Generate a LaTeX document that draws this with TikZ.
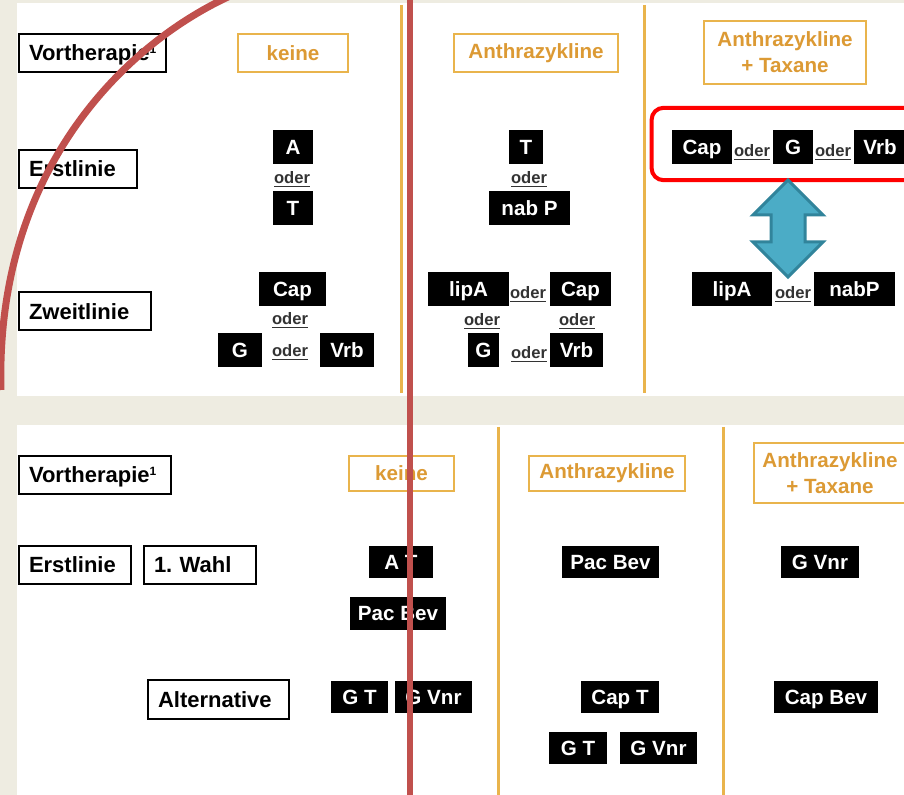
\documentclass[tikz,border=0pt]{standalone}
\usepackage{fontspec}
\setmainfont{Liberation Sans}
\usepackage{tikz}
\usetikzlibrary{fit}
\definecolor{fundo}{RGB}{238,236,225}
\definecolor{ouro}{RGB}{233,180,76}
\definecolor{ourotexto}{RGB}{220,154,52}
\definecolor{vermelho}{RGB}{192,80,77}
\definecolor{azul}{RGB}{75,172,198}
\definecolor{azulborda}{RGB}{49,132,155}
\newcommand{\hoch}{\raisebox{3.6pt}{\fontsize{6}{6}\selectfont 1}}
\tikzstyle{rotulo} = [draw=black, line width=1pt, fill=white, anchor=west, inner xsep=5pt, inner ysep=0pt, minimum height=19pt, align=left, text height=7.9pt, text depth=0pt, font=\bfseries\fontsize{11}{13}\selectfont]
\tikzstyle{previa} = [draw=ouro, line width=1.1pt, fill=white, inner sep=0pt, align=center, text=ourotexto, font=\bfseries\fontsize{10.3}{13}\selectfont]
\tikzstyle{farmaco} = [fill=black, text=white, inner sep=0pt, minimum height=17pt, text height=7.4pt, text depth=0pt, font=\bfseries\fontsize{10.3}{12}\selectfont]
\tikzstyle{ou} = [inner sep=0pt, text=black!80, font=\bfseries\fontsize{8.3}{10}\selectfont]
\tikzstyle{coluna} = [ouro, line width=1.5pt]

\begin{document}
\begin{tikzpicture}[x=0.5pt, y=-0.5pt]
    % Fundo
    \useasboundingbox (0,0) rectangle (904,795);
    \fill[fundo] (0,0) rectangle (904,795);
    \fill[white] (17,3) rectangle (904,396);
    \fill[white] (17,425) rectangle (904,795);
    \draw[coluna] (401,5) -- (401,393);
    \draw[coluna] (644,5) -- (644,393);
    \draw[coluna] (498,427) -- (498,797);
    \draw[coluna] (723,427) -- (723,797);

    % Painel superior
    \node[rotulo, text width=63.5pt] (tVor) at (18,53) {Vortherapie\hoch};
    \node[rotulo, text width=49pt] (tErst) at (18,169) {Erstlinie};
    \node[rotulo, text width=56pt] (tZweit) at (18,311.5) {Zweitlinie};
    \node[previa, minimum width=55pt, minimum height=19pt] (tKeine) at (293,53) {keine};
    \node[previa, minimum width=82pt, minimum height=19pt] (tAnth) at (536,53) {Anthrazykline};
    \node[previa, minimum width=81pt, minimum height=31.5pt] (tAnthTax) at (785,52.5) {Anthrazykline\\+ Taxane};

    % keine
    \node[farmaco, minimum width=20pt] (kA) at (293,147) {A};
    \node[ou] (kOu1) at (292,180) {\underline{oder}};
    \node[farmaco, minimum width=20pt] (kT) at (293,208) {T};
    \node[farmaco, minimum width=33.5pt] (kCap) at (292.5,289.5) {Cap};
    \node[ou] (kOu2) at (290,321) {\underline{oder}};
    \node[farmaco, minimum width=22pt] (kG) at (240,350) {G};
    \node[ou] (kOu3) at (290,353) {\underline{oder}};
    \node[farmaco, minimum width=27pt] (kVrb) at (347,350) {Vrb};

    % Anthrazykline
    \node[farmaco, minimum width=17pt] (aT) at (526,147) {T};
    \node[ou] (aOu1) at (529,180) {\underline{oder}};
    \node[farmaco, minimum width=40.5pt] (aNabP) at (529.5,208) {nab P};
    \node[farmaco, minimum width=40.5pt] (aLipA) at (468.5,289.5) {lipA};
    \node[ou] (aOu2) at (528,295) {\underline{oder}};
    \node[farmaco, minimum width=30.5pt] (aCap) at (580.5,289.5) {Cap};
    \node[ou] (aOu3) at (482,322) {\underline{oder}};
    \node[ou] (aOu4) at (577,322) {\underline{oder}};
    \node[farmaco, minimum width=15.5pt] (aG) at (483.5,350) {G};
    \node[ou] (aOu5) at (529,355) {\underline{oder}};
    \node[farmaco, minimum width=26.5pt] (aVrb) at (576.5,350) {Vrb};

    % Anthrazykline + Taxane
    \node[farmaco, minimum width=30pt] (cCap) at (702,147) {Cap};
    \node[ou] (cOu1) at (752,153) {\underline{oder}};
    \node[farmaco, minimum width=20pt] (cG) at (793,147) {G};
    \node[ou] (cOu2) at (833,153) {\underline{oder}};
    \node[farmaco, minimum width=26pt] (cVrb) at (880,147) {Vrb};
    \node[farmaco, minimum width=40pt] (cLipA) at (732,289.5) {lipA};
    \node[ou] (cOu3) at (793,295) {\underline{oder}};
    \node[farmaco, minimum width=40.5pt] (cNabP) at (854.5,289.5) {nabP};
    \node[draw=red, line width=2pt, rounded corners=6pt, fit=(cCap)(cVrb), inner xsep=10pt, inner ysep=9.4pt, yshift=1.5pt] (grupo) {};

    % Seta dupla
    \filldraw[fill=azul, draw=azulborda, line width=1.5pt, line join=miter]
        (788,180) -- (823,215) -- (805,215) -- (805,242) -- (823,242) -- (788,277)
        -- (753,242) -- (771,242) -- (771,215) -- (753,215) -- cycle;

    % Painel inferior
    \node[rotulo, text width=66pt] (bVor) at (18,475) {Vortherapie\hoch};
    \node[rotulo, text width=46pt] (bErst) at (18,565) {Erstlinie};
    \node[rotulo, text width=46pt] (bWahl) at (143,565) {1.\ Wahl};
    \node[rotulo, text width=60.5pt, minimum height=19.5pt] (bAlt) at (147,699.5) {Alternative};
    \node[previa, minimum width=52.5pt, minimum height=17.5pt] (bKeine) at (401.5,473.5) {keine};
    \node[previa, minimum width=78pt, minimum height=17.5pt] (bAnth) at (607,473.5) {Anthrazykline};
    \node[previa, minimum width=76pt, minimum height=30pt] (bAnthTax) at (830,473) {Anthrazykline\\+ Taxane};

    \node[farmaco, minimum width=32pt, minimum height=16pt] (bAT) at (401,562) {A T};
    \node[farmaco, minimum width=48pt, minimum height=16.5pt] (bPacBev) at (398,613.5) {Pac Bev};
    \node[farmaco, minimum width=28.5pt, minimum height=16pt] (bGT) at (359.5,697) {G T};
    \node[farmaco, minimum width=38.5pt, minimum height=16pt] (bGVnr) at (433.5,697) {G Vnr};
    \node[farmaco, minimum width=48.5pt, minimum height=16pt] (bPacBev2) at (610.5,562) {Pac Bev};
    \node[farmaco, minimum width=39pt, minimum height=16pt] (bCapT) at (620,697) {Cap T};
    \node[farmaco, minimum width=29pt, minimum height=16pt] (bGT2) at (578,748) {G T};
    \node[farmaco, minimum width=38.5pt, minimum height=16pt] (bGVnr2) at (658.5,748) {G Vnr};
    \node[farmaco, minimum width=39pt, minimum height=16pt] (bGVnr3) at (820,562) {G Vnr};
    \node[farmaco, minimum width=52pt, minimum height=16pt] (bCapBev) at (826,697) {Cap Bev};

    % Marcas vermelhas
    \draw[vermelho, line width=3.5pt] (228,-3) .. controls (125,45) and (-5,170) .. (1,390);
    \draw[vermelho, line width=3pt] (410,-2) -- (410,797);
\end{tikzpicture}
\end{document}
